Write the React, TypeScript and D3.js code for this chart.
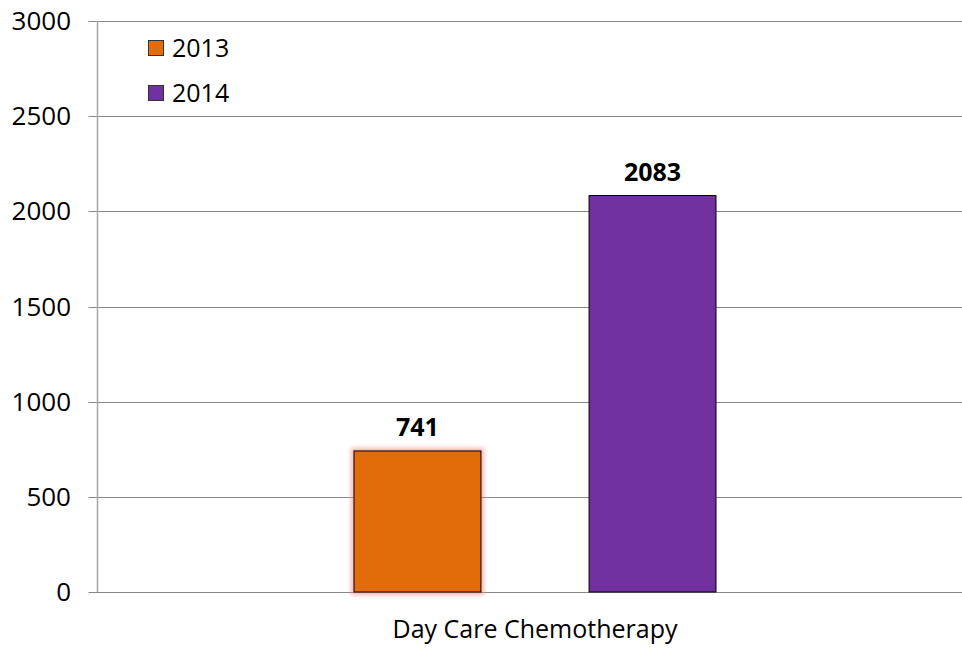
import * as d3 from 'd3';
import React, { useEffect, useRef } from 'react';

const categories = ['Day Care Chemotherapy'];
const seriesNames = ['2013', '2014'];
const values2013 = [741];
const values2014 = [2083];
const yTicks = [0, 500, 1000, 1500, 2000, 2500, 3000];
const colors = ['#E36C0A', '#7030A0'];

const W = 962;
const H = 648;
const FONT = '"Open Sans", Lato, sans-serif';

export default function App() {
  const ref = useRef<SVGSVGElement>(null);

  useEffect(() => {
    const svg = d3.select(ref.current);
    svg.selectAll('*').remove();

    const left = 97.5, right = 972.5, top = 21, bottom = 592;

    const y = d3.scaleLinear().domain([0, 3000]).range([bottom, top]);
    const x0 = d3.scaleBand<string>().domain(categories).range([left, right]).paddingInner(0).paddingOuter(0.7086);
    const x1 = d3.scaleBand<string>().domain(seriesNames).range([0, x0.bandwidth()]).paddingInner(0.46).paddingOuter(0);

    // glow filter for the 2013 bar
    const defs = svg.append('defs');
    const f = defs.append('filter').attr('id', 'glow').attr('x', '-20%').attr('y', '-20%').attr('width', '140%').attr('height', '140%');
    f.append('feMorphology').attr('in', 'SourceAlpha').attr('operator', 'dilate').attr('radius', 3).attr('result', 'd');
    f.append('feGaussianBlur').attr('in', 'd').attr('stdDeviation', 2).attr('result', 'b');
    f.append('feFlood').attr('flood-color', '#f08080').attr('flood-opacity', 0.6);
    f.append('feComposite').attr('in2', 'b').attr('operator', 'in');

    // gridlines
    svg.append('g')
      .selectAll('line')
      .data(yTicks)
      .enter().append('line')
      .attr('x1', left - 9)
      .attr('x2', W)
      .attr('y1', d => Math.round(y(d)) + 0.5)
      .attr('y2', d => Math.round(y(d)) + 0.5)
      .attr('stroke', '#888')
      .attr('stroke-width', 1);

    // y axis line
    svg.append('line')
      .attr('x1', left).attr('x2', left)
      .attr('y1', top).attr('y2', bottom)
      .attr('stroke', '#a6a6a6')
      .attr('stroke-width', 1.5);

    // y tick labels
    svg.append('g')
      .selectAll('text')
      .data(yTicks)
      .enter().append('text')
      .attr('x', 71)
      .attr('y', d => y(d))
      .attr('dy', '0.35em')
      .attr('text-anchor', 'end')
      .attr('font-family', FONT)
      .attr('font-size', 26)
      .attr('fill', '#000')
      .text(d => String(d));

    const rows = categories.map((c, i) => ({
      category: c,
      vals: [values2013[i], values2014[i]],
    }));

    const groups = svg.append('g')
      .selectAll('g')
      .data(rows)
      .enter().append('g')
      .attr('transform', d => `translate(${x0(d.category)},0)`);

    // glow behind orange bar
    groups.append('rect')
      .attr('x', x1('2013')!)
      .attr('y', d => y(d.vals[0]))
      .attr('width', x1.bandwidth())
      .attr('height', d => bottom - y(d.vals[0]))
      .attr('fill', '#000')
      .attr('filter', 'url(#glow)');

    seriesNames.forEach((s, si) => {
      groups.append('rect')
        .attr('x', x1(s)!)
        .attr('y', d => y(d.vals[si]))
        .attr('width', x1.bandwidth())
        .attr('height', d => bottom - y(d.vals[si]))
        .attr('fill', colors[si])
        .attr('stroke', '#000')
        .attr('stroke-width', 1);

      groups.append('text')
        .attr('x', x1(s)! + x1.bandwidth() / 2)
        .attr('y', d => y(d.vals[si]) - 15)
        .attr('text-anchor', 'middle')
        .attr('font-family', FONT)
        .attr('font-weight', 'bold')
        .attr('font-size', 25)
        .attr('fill', '#000')
        .text(d => String(d.vals[si]));
    });

    // category label
    svg.append('g')
      .selectAll('text')
      .data(categories)
      .enter().append('text')
      .attr('x', d => x0(d)! + x0.bandwidth() / 2)
      .attr('y', 638)
      .attr('text-anchor', 'middle')
      .attr('font-family', FONT)
      .attr('font-size', 25)
      .attr('fill', '#000')
      .text(d => d);

    // legend
    const legend = svg.append('g')
      .selectAll('g')
      .data(seriesNames)
      .enter().append('g')
      .attr('transform', (d, i) => `translate(148,${48 + i * 45})`);
    legend.append('rect')
      .attr('x', 0.5).attr('y', -7.5)
      .attr('width', 15).attr('height', 15)
      .attr('fill', (d, i) => colors[i])
      .attr('stroke', '#333')
      .attr('stroke-width', 1);
    legend.append('text')
      .attr('x', 24)
      .attr('y', 0)
      .attr('dy', '0.35em')
      .attr('font-family', FONT)
      .attr('font-size', 25)
      .attr('fill', '#000')
      .text(d => d);
  }, []);

  return (
    <svg ref={ref} width={W} height={H} style={{ position: 'absolute', left: 0, top: 0, background: '#fff' }} />
  );
}
